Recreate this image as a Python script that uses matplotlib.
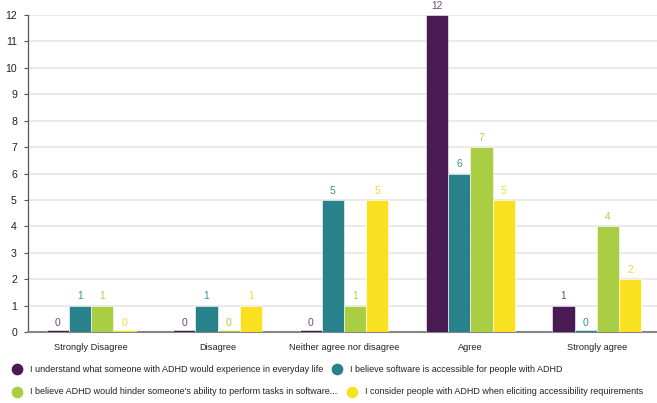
import matplotlib
matplotlib.use("Agg")
import matplotlib.pyplot as plt
from matplotlib.lines import Line2D
import numpy as np

plt.rcParams['font.family'] = ['Liberation Sans', 'DejaVu Sans']

categories = ["Strongly Disagree", "Disagree", "Neither agree nor disagree", "Agree", "Strongly agree"]
series_names = [
    "I understand what someone with ADHD would experience in everyday life",
    "I believe software is accessible for people with ADHD",
    "I believe ADHD would hinder someone's ability to perform tasks in software...",
    "I consider people with ADHD when eliciting accessibility requirements",
]
understand = [0, 0, 0, 12, 1]
accessible = [1, 1, 5, 6, 0]
hinder = [1, 0, 1, 7, 4]
consider = [0, 1, 5, 5, 2]
series_values = [understand, accessible, hinder, consider]
y_ticks = list(range(0, 13))

bar_colors = ["#4a1a52", "#29818b", "#a9cd43", "#f9e11f"]
label_colors = ["#6b4a72", "#3a8f99", "#add04c", "#f0d836"]
text_color = "#222222"

W, H = 657, 403
fig = plt.figure(figsize=(W / 100, H / 100), dpi=100)
ax = fig.add_axes([28 / W, 71 / H, 632 / W, 317 / H])

x = np.arange(len(categories))
width = 0.176
offsets = (np.arange(4) - 1.5) * width
for i, vals in enumerate(series_values):
    # zero answers are shown as a thin sliver on the baseline
    heights = [v if v > 0 else 0.08 for v in vals]
    ax.bar(x + offsets[i], heights, width, color=bar_colors[i], zorder=3,
           edgecolor="#ffffff", linewidth=0.4)
    for xi, v in zip(x, vals):
        ax.annotate(str(v), (xi + offsets[i], v), xytext=(0, 3),
                    textcoords="offset points", ha="center", va="bottom",
                    fontsize=7.4, color=label_colors[i], zorder=4)

ax.set_xlim(-0.5, len(categories) - 0.5)
ax.set_ylim(0, 12)
ax.set_yticks(y_ticks)
ax.set_yticklabels([str(t) for t in y_ticks], fontsize=7.6, color=text_color)
ax.set_xticks(x)
ax.set_xticklabels(categories, fontsize=6.7, color=text_color)
ax.tick_params(axis="x", length=0, pad=8)
ax.tick_params(axis="y", length=3, width=0.8, color="#555555", pad=5)
ax.yaxis.grid(True, color="#e4e4e4", linewidth=1.1, zorder=0)
ax.set_axisbelow(True)
for s in ["top", "right"]:
    ax.spines[s].set_visible(False)
ax.spines["left"].set_color("#555555")
ax.spines["left"].set_linewidth(0.9)
ax.spines["bottom"].set_color("#858585")
ax.spines["bottom"].set_linewidth(1.5)

# legend: two rows, each row flowed left to right
legend_rows = [
    [(0, 17, 369), (1, 337, 369)],
    [(2, 17, 392), (3, 352, 392)],
]
for row in legend_rows:
    for i, mx, my in row:
        fig.add_artist(Line2D([mx / W], [1 - my / H], marker="o", markersize=7.4,
                              color=bar_colors[i], linestyle="none",
                              transform=fig.transFigure))
        fig.text((mx + 13) / W, 1 - my / H, series_names[i], fontsize=6.5,
                 color=text_color, ha="left", va="center")

fig.savefig("out.png", dpi=100)
